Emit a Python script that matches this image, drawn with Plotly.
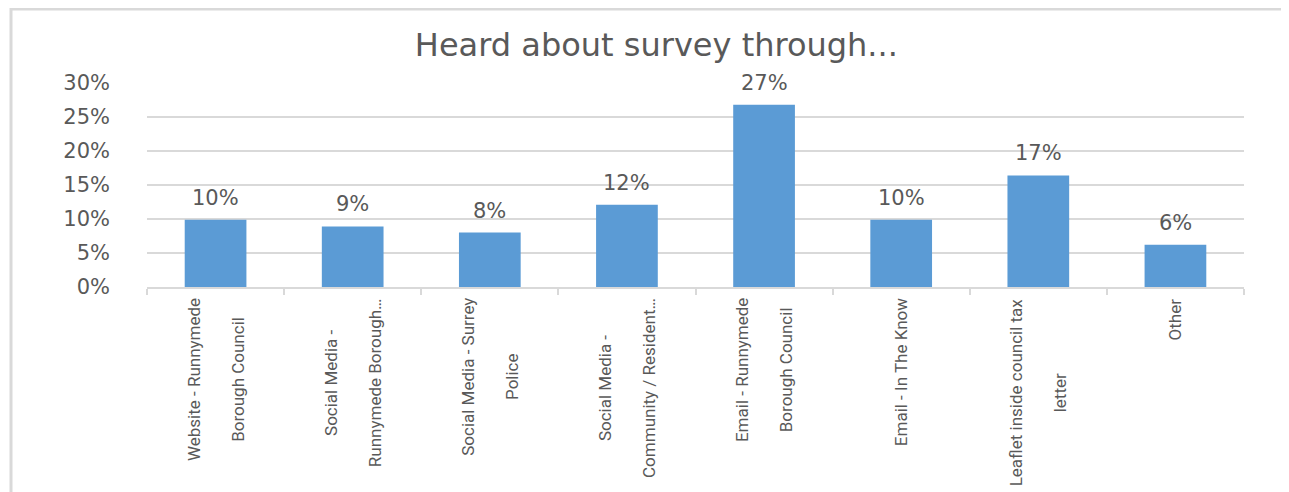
import plotly.graph_objects as go

categories = [
    "Website - Runnymede<br>Borough Council",
    "Social Media -<br>Runnymede Borough…",
    "Social Media - Surrey<br>Police",
    "Social Media -<br>Community / Resident…",
    "Email - Runnymede<br>Borough Council",
    "Email - In The Know",
    "Leaflet inside council tax<br>letter",
    "Other",
]
values = [0.099, 0.089, 0.080, 0.121, 0.268, 0.099, 0.164, 0.062]
labels = ["10%", "9%", "8%", "12%", "27%", "10%", "17%", "6%"]
y_ticks = [0, 0.05, 0.10, 0.15, 0.20, 0.25, 0.30]
y_tick_text = ["0%", "5%", "10%", "15%", "20%", "25%", "30%"]

grey_text = "#595959"
grid = "#d9d9d9"

# figure geometry (page has an 8px body margin)
W, H = 1289, 492
L, R, T, B = 139, 53, 75, 213
pw, ph = W - L - R, H - T - B


def px_to_paper_x(px):
    return (px - L) / pw


def px_to_paper_y(py):
    return (H - B - py) / ph


fig = go.Figure(
    go.Bar(
        x=categories,
        y=values,
        marker=dict(color="#5b9bd5", line=dict(width=0)),
        width=0.45,
        hoverinfo="x+y",
    )
)

annotations = []
# value labels above bars
for c, v, lab in zip(categories, values, labels):
    annotations.append(
        dict(
            x=c, xref="x", y=v, yref="y",
            text=lab, showarrow=False,
            xanchor="center", yanchor="middle", yshift=22,
            font=dict(family="DejaVu Sans", size=21, color=grey_text),
        )
    )
# rotated category labels
for c in categories:
    annotations.append(
        dict(
            x=c, xref="x", y=0, yref="paper",
            text=c.replace("<br>", "<br><br>"), textangle=-90, showarrow=False,
            xanchor="center", yanchor="top", yshift=-9, align="center",
            font=dict(family="Liberation Sans Narrow, Roboto, sans-serif", size=17, color=grey_text),
        )
    )

fig.update_layout(
    width=W, height=H,
    margin=dict(l=L, r=R, t=T, b=B),
    paper_bgcolor="white",
    plot_bgcolor="white",
    showlegend=False,
    title=dict(
        text="Heard about survey through...",
        x=0.503, xanchor="center", y=0.925, yanchor="middle",
        xref="container", yref="container",
        font=dict(family="DejaVu Sans", size=32, color=grey_text),
    ),
    xaxis=dict(
        showticklabels=False,
        ticks="outside", tickson="boundaries", ticklen=6, tickcolor=grid, tickwidth=1.5,
        showline=True, linecolor=grid, linewidth=1.5,
        showgrid=False,
    ),
    yaxis=dict(
        range=[0, 0.30],
        tickvals=y_ticks, ticktext=y_tick_text,
        tickfont=dict(family="DejaVu Sans", size=21, color=grey_text),
        showgrid=True, gridcolor=grid, gridwidth=1.5,
        zeroline=False, showline=False, ticks="",
        ticklabelstandoff=36,
    ),
    annotations=annotations,
    shapes=[
        dict(
            type="rect", xref="paper", yref="paper",
            x0=px_to_paper_x(3), x1=px_to_paper_x(1320),
            y0=px_to_paper_y(530), y1=px_to_paper_y(1),
            line=dict(color=grid, width=3), fillcolor="rgba(0,0,0,0)", layer="below",
        )
    ],
)

fig.write_html("out.html")
